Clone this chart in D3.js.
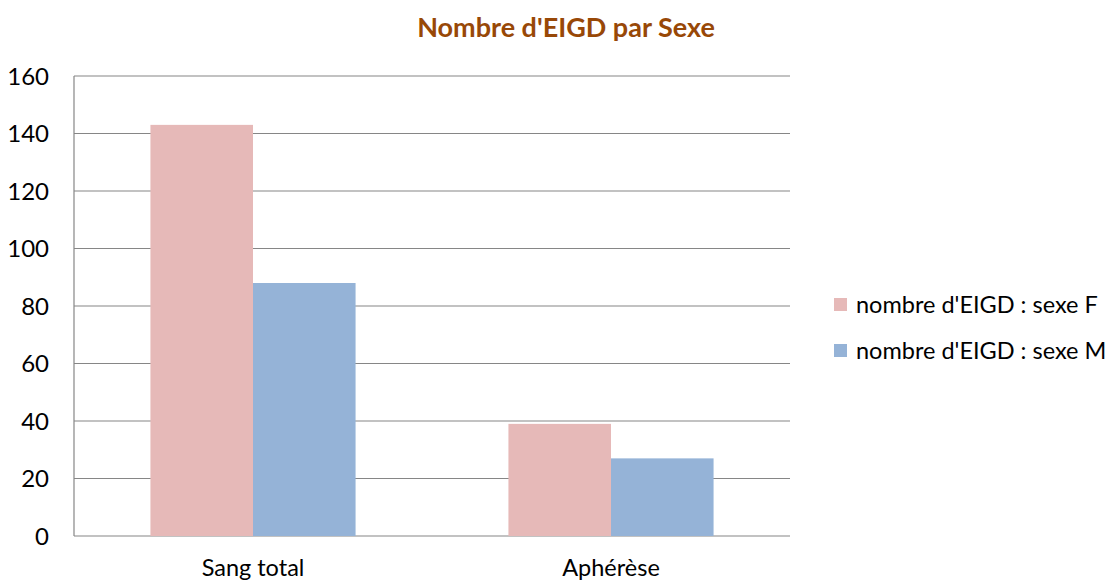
<!DOCTYPE html>
<html>
<head>
<meta charset="utf-8">
<script src="https://cdn.jsdelivr.net/npm/d3@7"></script>
<style>
  body { margin: 0; background: #fff; }
  svg text { font-family: Lato, "Open Sans", sans-serif; fill: #000; }
</style>
</head>
<body>
<svg id="chart" width="1118" height="582"></svg>
<script>
const categories = ['Sang total', 'Aphérèse'];
const seriesNames = ["nombre d'EIGD : sexe F", "nombre d'EIGD : sexe M"];
const valuesF = [143, 39];
const valuesM = [88, 27];
const yTicks = [0, 20, 40, 60, 80, 100, 120, 140, 160];
const colors = ['#e6b9b8', '#95b3d7'];

const svg = d3.select('#chart');
const plotLeft = 74, plotRight = 790, plotTop = 76, plotBottom = 536;

const x = d3.scaleBand().domain(categories).range([plotLeft, plotRight])
    .paddingInner(0.427).paddingOuter(0.2135);
const xs = d3.scaleBand().domain([0, 1]).range([0, x.bandwidth()]);
const y = d3.scaleLinear().domain([0, 160]).range([plotBottom, plotTop]);

// grid
svg.append('g').selectAll('line')
    .data(yTicks)
    .join('line')
    .attr('x1', plotLeft).attr('x2', plotRight)
    .attr('y1', d => y(d)).attr('y2', d => y(d))
    .attr('stroke', '#868686').attr('stroke-width', 1.2);

svg.append('line')
    .attr('x1', plotLeft).attr('x2', plotLeft)
    .attr('y1', plotTop).attr('y2', plotBottom)
    .attr('stroke', '#868686').attr('stroke-width', 1.2);

// bars
const series = [valuesF, valuesM];
series.forEach((vals, si) => {
    svg.append('g').selectAll('rect')
        .data(categories)
        .join('rect')
        .attr('x', (c) => x(c) + xs(si))
        .attr('y', (c, i) => y(vals[i]))
        .attr('width', xs.bandwidth())
        .attr('height', (c, i) => y(0) - y(vals[i]))
        .attr('fill', colors[si]);
});

// y labels
svg.append('g').selectAll('text')
    .data(yTicks)
    .join('text')
    .attr('x', 49).attr('y', d => y(d) + 8.5)
    .attr('text-anchor', 'end')
    .attr('font-size', 24)
    .text(d => d);

// x labels
svg.append('g').selectAll('text')
    .data(categories)
    .join('text')
    .attr('x', d => x(d) + x.bandwidth() / 2)
    .attr('y', 576)
    .attr('text-anchor', 'middle')
    .attr('font-size', 23.5)
    .text(d => d);

// title
svg.append('text')
    .attr('x', 566).attr('y', 37)
    .attr('text-anchor', 'middle')
    .attr('font-size', 27).attr('font-weight', 'bold')
    .style('fill', '#984807')
    .text("Nombre d'EIGD par Sexe");

// legend
const lg = svg.append('g').selectAll('g')
    .data(seriesNames)
    .join('g')
    .attr('transform', (d, i) => `translate(834, ${304 + i * 46})`);
lg.append('rect').attr('y', -6).attr('width', 13).attr('height', 13)
    .attr('fill', (d, i) => colors[i]);
lg.append('text').attr('x', 22).attr('y', 8.5)
    .attr('font-size', 23.5)
    .text(d => d);
</script>
</body>
</html>
